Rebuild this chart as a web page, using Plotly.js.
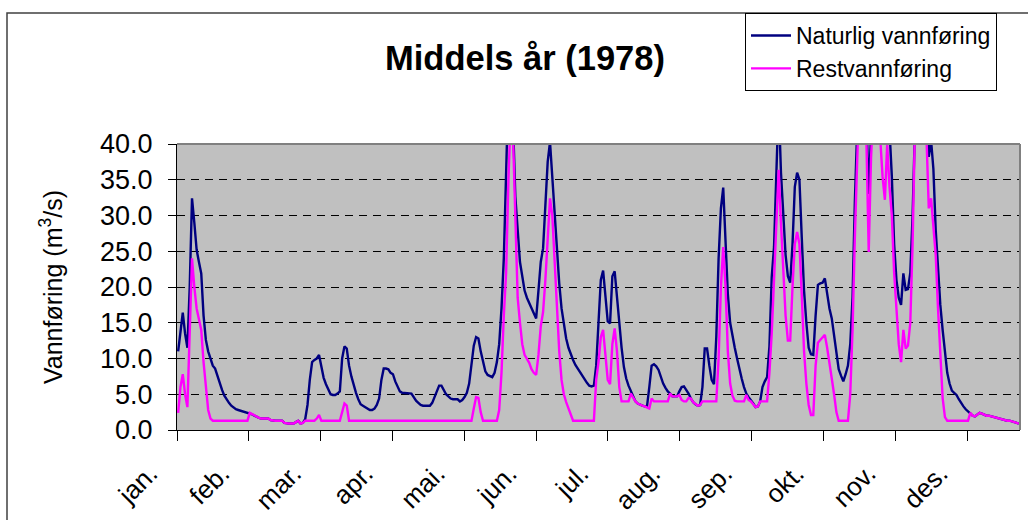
<!DOCTYPE html>
<html>
<head>
<meta charset="utf-8">
<script src="https://cdn.plot.ly/plotly-3.0.1.min.js"></script>
<style>
html, body { margin: 0; padding: 0; background: #ffffff; }
#chart { width: 1028px; height: 520px; }
</style>
</head>
<body>
<div id="chart"></div>
<script>
// Month tick labels
const monthLabels = ['jan.', 'feb.', 'mar.', 'apr.', 'mai.', 'jun.', 'jul.', 'aug.', 'sep.', 'okt.', 'nov.', 'des.'];

// Daily natural flow (m3/s), 1978
const naturlig = [
  11.0, 14.0, 16.4, 13.5, 11.5, 20.0, 32.4, 29.0, 25.2, 23.5,
  21.9, 16.0, 12.6, 11.0, 9.8, 9.0, 8.6, 7.5, 6.5, 5.6,
  4.8, 4.2, 3.8, 3.4, 3.1, 2.9, 2.8, 2.7, 2.6, 2.5,
  2.4, 2.4, 2.2, 2.0, 1.8, 1.7, 1.6, 1.6, 1.6, 1.6,
  1.4, 1.3, 1.3, 1.3, 1.3, 1.3, 1.0, 0.9, 0.9, 0.9,
  0.9, 1.1, 1.3, 0.9, 1.0, 1.5, 3.5, 7.0, 9.5, 9.8,
  10.0, 10.5, 8.6, 7.3, 6.4, 5.6, 5.0, 4.9, 4.9, 5.1,
  5.4, 10.0, 11.7, 11.4, 9.0, 7.5, 6.2, 5.2, 4.3, 3.6,
  3.4, 3.2, 3.0, 2.8, 2.8, 3.0, 3.5, 4.4, 7.0, 8.6,
  8.6, 8.5, 8.0, 7.8, 6.8, 6.0, 5.4, 5.2, 5.2, 5.2,
  5.1, 5.1, 4.6, 4.1, 3.8, 3.5, 3.4, 3.4, 3.4, 3.4,
  3.8, 4.6, 5.5, 6.2, 6.2, 5.5, 5.0, 4.7, 4.4, 4.3,
  4.3, 4.3, 4.0, 4.2, 4.6, 5.2, 6.5, 9.5, 11.8, 13.0,
  12.8, 11.0, 9.4, 8.2, 7.7, 7.5, 7.4, 8.0, 9.5, 12.0,
  17.0, 24.0, 36.0, 48.0, 47.0, 43.0, 32.6, 27.5, 23.5, 21.5,
  19.5, 18.5, 17.8, 16.9, 16.2, 15.6, 19.5, 23.5, 25.4, 32.0,
  37.5, 40.3, 35.0, 29.5, 25.0, 20.5, 17.0, 14.5, 12.8, 11.5,
  10.5, 9.8, 9.1, 8.6, 8.0, 7.6, 7.0, 6.6, 6.2, 6.1,
  6.2, 9.0, 15.0, 21.0, 22.3, 18.2, 15.2, 14.9, 21.5, 22.2,
  18.5, 15.4, 11.5, 8.8, 7.2, 6.2, 5.5, 4.6, 4.0, 3.7,
  3.5, 3.4, 3.3, 3.3, 6.0, 9.0, 9.2, 8.9, 8.4, 7.3,
  6.5, 5.9, 5.4, 5.1, 4.7, 4.7, 4.7, 5.4, 6.0, 6.1,
  5.6, 5.1, 4.4, 3.9, 3.6, 3.4, 3.5, 6.0, 11.4, 11.4,
  9.0, 7.0, 6.4, 13.0, 24.0, 31.0, 33.9, 27.0, 19.0, 15.0,
  13.0, 11.5, 10.0, 8.5, 7.2, 6.0, 5.1, 4.6, 4.2, 3.7,
  3.2, 3.3, 4.0, 6.0, 6.8, 7.4, 11.7, 21.4, 25.6, 36.0,
  46.0, 36.0, 30.0, 24.5, 21.5, 20.6, 26.0, 34.0, 36.0, 35.0,
  27.0, 19.5, 15.0, 11.5, 10.6, 10.5, 16.0, 20.3, 20.5, 20.6,
  21.2, 19.0, 17.0, 15.6, 13.0, 10.5, 8.5, 7.6, 6.8, 7.8,
  9.0, 12.0, 18.6, 32.0, 45.0, 52.0, 50.0, 46.0, 44.0, 33.0,
  45.0, 55.0, 58.0, 55.0, 52.0, 50.0, 48.0, 46.0, 42.0, 35.5,
  26.0, 21.0, 18.5, 17.5, 21.9, 19.6, 19.7, 22.0, 30.0, 42.0,
  50.0, 55.0, 50.0, 45.0, 43.0, 38.2, 40.5, 36.5, 28.0, 22.5,
  17.5, 14.0, 10.5, 8.0, 6.5, 5.5, 5.2, 4.9, 4.3, 3.7,
  3.3, 2.9, 2.6, 2.4, 2.0, 1.9, 2.2, 2.4, 2.3, 2.1,
  2.0, 2.0, 1.9, 1.9, 1.8, 1.7, 1.6, 1.5, 1.4, 1.3,
  1.3, 1.2, 1.2, 1.0, 0.9
];

// Daily residual flow (m3/s), 1978
const restvann = [
  2.4, 6.0, 7.8, 5.0, 3.2, 13.0, 24.0, 20.0, 17.0, 15.5,
  14.0, 9.5, 5.5, 2.8, 1.6, 1.3, 1.3, 1.3, 1.3, 1.3,
  1.3, 1.3, 1.3, 1.3, 1.3, 1.3, 1.3, 1.3, 1.3, 1.3,
  1.3, 2.4, 2.2, 2.0, 1.8, 1.7, 1.6, 1.6, 1.6, 1.6,
  1.4, 1.3, 1.3, 1.3, 1.3, 1.3, 1.0, 0.9, 0.9, 0.9,
  0.9, 1.1, 1.3, 0.9, 1.0, 1.3, 1.3, 1.3, 1.3, 1.3,
  1.6, 2.1, 1.3, 1.3, 1.3, 1.3, 1.3, 1.3, 1.3, 1.3,
  1.3, 2.5, 3.7, 3.4, 1.3, 1.3, 1.3, 1.3, 1.3, 1.3,
  1.3, 1.3, 1.3, 1.3, 1.3, 1.3, 1.3, 1.3, 1.3, 1.3,
  1.3, 1.3, 1.3, 1.3, 1.3, 1.3, 1.3, 1.3, 1.3, 1.3,
  1.3, 1.3, 1.3, 1.3, 1.3, 1.3, 1.3, 1.3, 1.3, 1.3,
  1.3, 1.3, 1.3, 1.3, 1.3, 1.3, 1.3, 1.3, 1.3, 1.3,
  1.3, 1.3, 1.3, 1.3, 1.3, 1.3, 1.3, 1.3, 3.0, 4.6,
  4.5, 2.5, 1.3, 1.3, 1.3, 1.3, 1.3, 1.3, 1.3, 2.8,
  8.0, 16.0, 22.0, 35.0, 44.0, 41.0, 29.0, 18.5, 15.0, 12.0,
  10.5, 10.0, 9.4, 8.5, 8.0, 7.7, 10.5, 14.5, 16.5, 21.0,
  27.0, 32.4, 30.0, 24.0, 18.0, 11.0, 7.0, 5.0, 3.9, 3.0,
  2.0, 1.3, 1.3, 1.3, 1.3, 1.3, 1.3, 1.3, 1.3, 1.3,
  1.3, 7.0, 9.5, 13.0, 14.0, 10.5, 7.0, 6.4, 12.0, 14.2,
  11.0, 6.0, 4.0, 4.0, 4.0, 4.0, 5.1, 4.5, 4.0, 3.7,
  3.5, 3.4, 3.3, 3.2, 3.0, 4.4, 4.0, 4.0, 4.0, 4.0,
  4.0, 4.0, 4.0, 5.1, 4.7, 4.7, 4.7, 4.9, 4.2, 4.0,
  4.0, 4.5, 4.4, 3.9, 3.6, 3.4, 3.5, 4.0, 4.0, 4.0,
  4.0, 4.0, 4.0, 4.0, 10.0, 20.0, 25.6, 20.0, 11.0, 6.5,
  4.8, 4.1, 4.0, 4.0, 4.0, 4.0, 4.9, 4.2, 4.0, 3.6,
  3.2, 3.3, 4.0, 4.0, 4.0, 4.0, 8.0, 13.5, 21.0, 28.0,
  36.4, 29.0, 23.3, 16.0, 12.5, 12.5, 20.0, 26.0, 27.7, 26.0,
  19.0, 11.0, 6.5, 3.5, 2.1, 2.1, 9.0, 12.2, 12.6, 13.0,
  13.3, 11.5, 9.0, 7.2, 5.0, 2.5, 1.3, 1.3, 1.3, 1.3,
  1.3, 5.0, 14.0, 27.0, 42.0, 48.0, 46.0, 42.0, 40.5, 24.9,
  38.0, 48.0, 52.0, 46.0, 40.0, 35.4, 32.2, 40.0, 34.0, 30.0,
  22.0, 16.8, 12.0, 9.5, 14.0, 11.4, 11.8, 15.0, 26.0, 42.0,
  48.0, 50.0, 47.0, 42.0, 41.0, 31.0, 32.4, 29.0, 24.5, 17.0,
  10.0, 4.5, 1.8, 1.3, 1.3, 1.3, 1.3, 1.3, 1.3, 1.3,
  1.3, 1.3, 1.3, 2.4, 2.0, 1.9, 2.2, 2.4, 2.3, 2.1,
  2.0, 2.0, 1.9, 1.9, 1.8, 1.7, 1.6, 1.5, 1.4, 1.3,
  1.3, 1.2, 1.2, 1.0, 0.9
];

const seriesNames = ['Naturlig vannføring', 'Restvannføring'];

const days = naturlig.map((_, i) => i);
const tickStep = 31.1;
const tickPos = monthLabels.map((_, k) => k * tickStep - 0.5);

const FONT = '"Liberation Sans", Arial, Helvetica, sans-serif';

const traces = [
  {
    x: days, y: naturlig, type: 'scatter', mode: 'lines',
    name: seriesNames[0],
    line: { color: '#000080', width: 2.4 }
  },
  {
    x: days, y: restvann, type: 'scatter', mode: 'lines',
    name: seriesNames[1],
    line: { color: '#FF00FF', width: 2.4 }
  }
];

const W = 1028, H = 520, L = 177, R = 8, T = 144, B = 90;
const pw = W - L - R, ph = H - T - B;
const px2x = p => (p - L) / pw;
const py2y = p => (H - B - p) / ph;

const layout = {
  width: W, height: H,
  margin: { l: L, r: R, t: T, b: B, autoexpand: false },
  paper_bgcolor: '#ffffff',
  plot_bgcolor: '#C0C0C0',
  font: { family: FONT, color: '#000000' },
  showlegend: true,
  title: {
    text: '<b>Middels år (1978)</b>',
    font: { family: FONT, size: 34.5, color: '#000000' },
    xref: 'container', yref: 'container',
    x: 525 / W, xanchor: 'center',
    y: 1 - 58 / H, yanchor: 'middle'
  },
  xaxis: {
    range: [-0.5, naturlig.length - 0.5],
    tickmode: 'array', tickvals: tickPos, ticktext: monthLabels,
    tickangle: -45,
    ticks: 'outside', ticklen: 10, tickwidth: 1, tickcolor: '#000000',
    ticklabelstandoff: 7,
    ticklabelshift: -27,
    tickfont: { family: FONT, size: 26, color: '#000000' },
    showline: true, linecolor: '#000000', linewidth: 1,
    showgrid: false, zeroline: false, fixedrange: true
  },
  yaxis: {
    range: [0, 40],
    tickmode: 'linear', tick0: 0, dtick: 5, tickformat: '.1f',
    ticks: 'outside', ticklen: 8, tickwidth: 1, tickcolor: '#000000',
    ticklabelstandoff: 10,
    tickfont: { family: FONT, size: 27, color: '#000000' },
    showline: true, linecolor: '#000000', linewidth: 1,
    showgrid: true, gridcolor: '#000000', gridwidth: 1, griddash: '8px,6px',
    zeroline: false, fixedrange: true,
    title: {
      text: 'Vannføring (m<sup>3</sup>/s)',
      font: { family: FONT, size: 25, color: '#000000' },
      standoff: 30
    }
  },
  legend: {
    x: px2x(745), xanchor: 'left',
    y: py2y(13), yanchor: 'top',
    bgcolor: '#ffffff', bordercolor: '#000000', borderwidth: 1,
    font: { family: FONT, size: 23, color: '#000000' },
    itemwidth: 40, tracegroupgap: 0
  },
  shapes: [
    // outer chart frame
    { type: 'rect', xref: 'paper', yref: 'paper',
      x0: px2x(7), x1: px2x(1040), y0: py2y(530), y1: py2y(13),
      line: { color: '#404040', width: 1.5 }, fillcolor: 'rgba(0,0,0,0)', layer: 'below' },
    // plot area border top/right (gray)
    { type: 'line', xref: 'paper', yref: 'paper', x0: 0, x1: 1, y0: 1, y1: 1,
      line: { color: '#808080', width: 2 }, layer: 'above' },
    { type: 'line', xref: 'paper', yref: 'paper', x0: 1, x1: 1, y0: 0, y1: 1,
      line: { color: '#808080', width: 2 }, layer: 'above' }
  ]
};

Plotly.newPlot('chart', traces, layout, { displayModeBar: false, staticPlot: true });
</script>
</body>
</html>
